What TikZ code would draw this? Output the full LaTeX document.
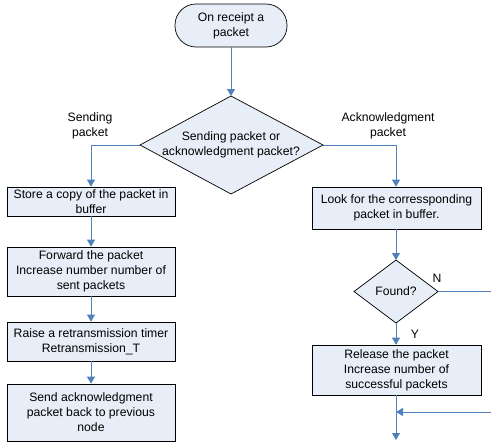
\documentclass[tikz,border=0pt]{standalone}
\usepackage{fontspec}
\setmainfont{Liberation Sans}
\usetikzlibrary{arrows.meta}
\definecolor{boxfill}{HTML}{E8EEF8}
\definecolor{flow}{HTML}{4F81BD}
\tikzset{
  base/.style={font=\fontsize{12.2}{15}\selectfont, align=center},
  procbox/.style={base, draw=black, fill=boxfill, line width=0.7pt, inner sep=0pt, minimum width=#1},
  procbox/.default=168pt,
  termbox/.style={base, draw=black, fill=boxfill, line width=0.7pt, rounded corners=21pt, minimum width=112pt, minimum height=43pt, inner sep=0pt},
  diam/.style={draw=black, fill=boxfill, line width=0.7pt},
  lbl/.style={base},
  conn/.style={draw=flow, line width=0.9pt},
  arr/.style={conn, -{Triangle[width=8pt,length=7pt]}}
}
\begin{document}
\begin{tikzpicture}[x=1pt,y=-1pt]
\useasboundingbox (0,0) rectangle (491,442);
% start
\node[termbox] (start) at (231,25.5) {On receipt a\\packet};
% main diamond
\coordinate (dT) at (231,96);
\coordinate (dB) at (231,194);
\coordinate (dL) at (140,145);
\coordinate (dR) at (323,145);
\draw[diam] (dT) -- (dR) -- (dB) -- (dL) -- cycle;
\node[base] (dtext) at (231,145) {Sending packet or\\acknowledgment packet?};
% left column
\node[procbox, minimum height=29pt] (b1) at (91,201.5) {Store a copy of the packet in\\buffer};
\node[procbox, minimum height=49pt] (b2) at (91,271.5) {Forward the packet\\Increase number number of\\sent packets};
\node[procbox, minimum height=39pt] (b3) at (91,341.5) {Raise a retransmission timer\\Retransmission\_T};
\node[procbox, minimum height=57pt] (b4) at (91,412.5) {Send acknowledgment\\packet back to previous\\node};
% right column
\node[procbox=169pt, minimum height=42pt] (r1) at (396.5,208) {Look for the corressponding\\packet in buffer.};
\coordinate (fT) at (396,260);
\coordinate (fB) at (396,323);
\coordinate (fL) at (354,291.5);
\coordinate (fR) at (438,291.5);
\draw[diam] (fT) -- (fR) -- (fB) -- (fL) -- cycle;
\node[base] (ftext) at (396,291.5) {Found?};
\node[procbox=169pt, minimum height=50pt] (r2) at (396.5,370) {Release the packet\\Increase number of\\successful packets};
% labels
\node[lbl] (ls) at (90,125.5) {Sending\\packet};
\node[lbl] (la) at (388,125.5) {Acknowledgment\\packet};
\node[lbl] (ln) at (437,278) {N};
\node[lbl] (ly) at (415,334) {Y};
% coordinates for free ends
\coordinate (nEnd) at (491,291.5);
\coordinate (mR) at (491,412);
\coordinate (mP) at (396,412);
\coordinate (endB) at (396,440);
% connectors
\draw[arr] (start.south) -- (dT);
\draw[arr] (dL) -| (b1.north);
\draw[arr] (dR) -| (fT |- r1.north);
\draw[arr] (b1.south) -- (b2.north);
\draw[arr] (b2.south) -- (b3.north);
\draw[arr] (b3.south) -- (b4.north);
\draw[arr] (fT |- r1.south) -- (fT);
\draw[arr] (fB) -- (fB |- r2.north);
\draw[conn] (fR) -- (nEnd);
\draw[arr] (mR) -- (mP);
\draw[arr] (fB |- r2.south) -- (endB);
\end{tikzpicture}
\end{document}
